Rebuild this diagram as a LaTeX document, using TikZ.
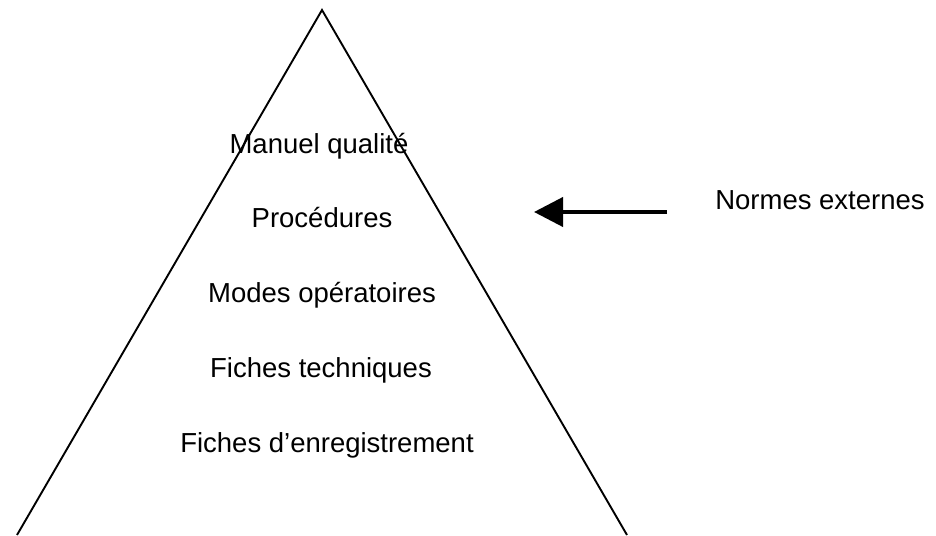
\documentclass[tikz,border=0pt]{standalone}
\usepackage{fontspec}
\setmainfont{Liberation Sans}
\usetikzlibrary{arrows.meta}
\begin{document}
\begin{tikzpicture}[x=1pt,y=-1pt,
  level/.style={anchor=base,inner sep=0pt,font=\fontsize{27.5}{33}\selectfont},
  edge/.style={line width=1.9pt,line join=miter},
  pointer/.style={line width=4pt,-{Triangle[length=29pt,width=29pt]}}]
  \useasboundingbox (0,0) rectangle (936,535);
  % pyramid sides
  \coordinate (apex) at (322,10);
  \coordinate (bl) at (17,535);
  \coordinate (br) at (627,535);
  \draw[edge] (bl) -- (apex) -- (br);
  % levels of the documentation pyramid
  \node[level] (l1) at (319,153) {Manuel qualité};
  \node[level] (l2) at (322,227) {Procédures};
  \node[level] (l3) at (322,302) {Modes opératoires};
  \node[level] (l4) at (321,377) {Fiches techniques};
  \node[level] (l5) at (327,452) {Fiches d’enregistrement};
  % external standards
  \node[level] (ext) at (820,209) {Normes externes};
  \coordinate (from) at (667,212);
  \coordinate (to) at (534,212);
  \draw[pointer] (from) -- (to);
\end{tikzpicture}
\end{document}
